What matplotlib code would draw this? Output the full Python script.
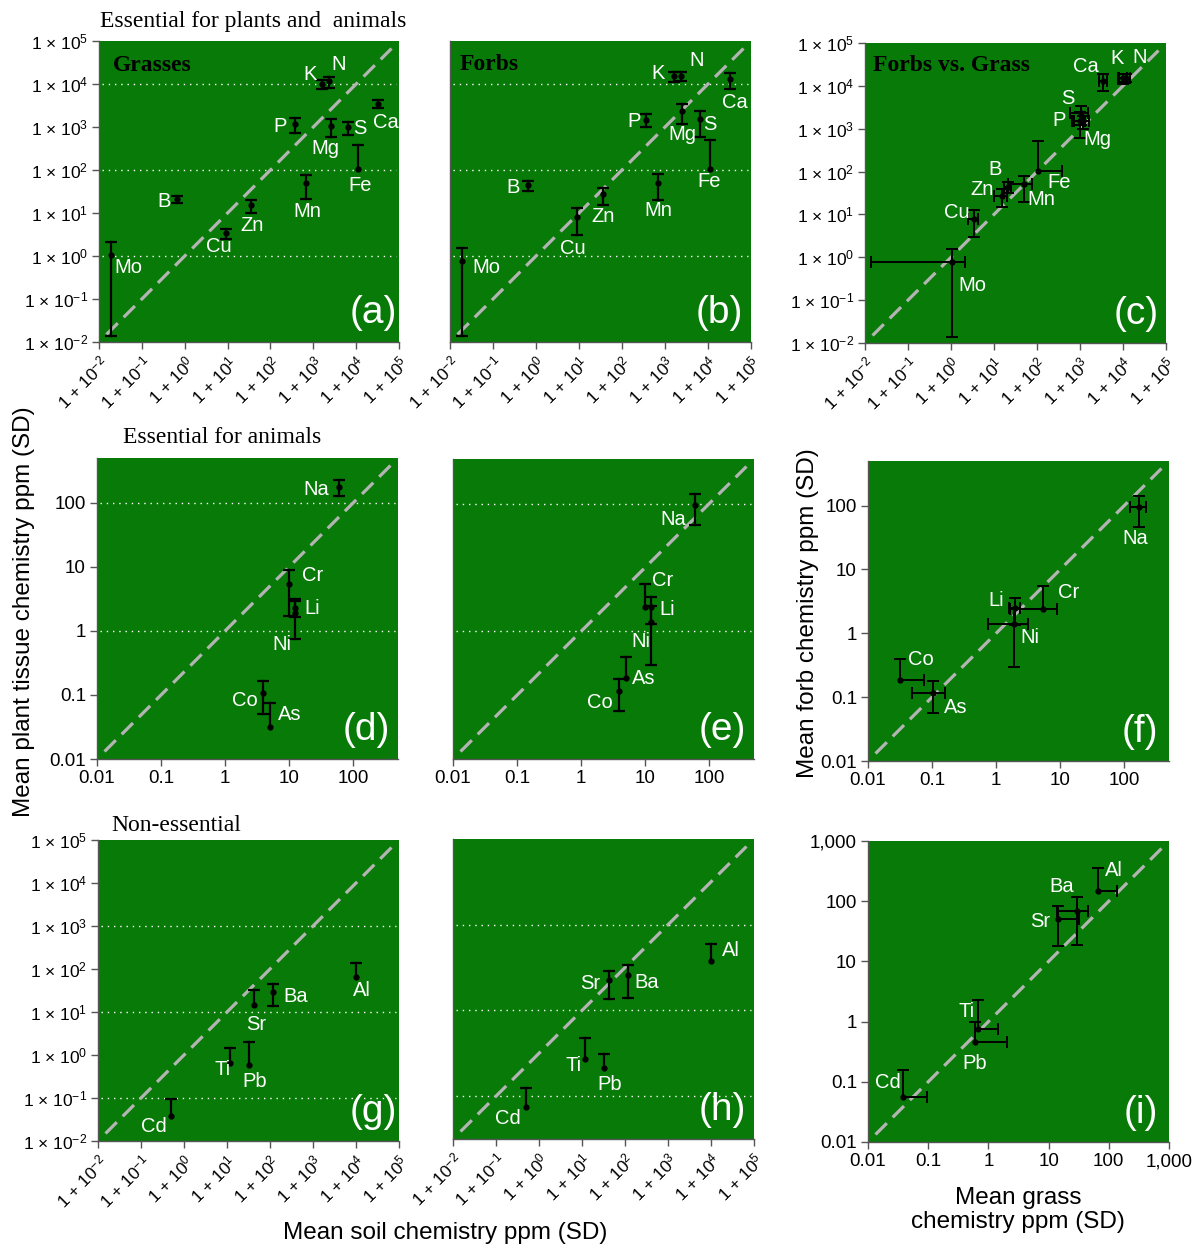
import numpy as np
import matplotlib
matplotlib.use("Agg")
import matplotlib.pyplot as plt
from matplotlib.ticker import NullLocator

plt.rcParams["font.family"] = ["Liberation Sans", "DejaVu Sans"]
plt.rcParams["mathtext.fontset"] = "custom"
plt.rcParams["mathtext.rm"] = "Liberation Sans"
plt.rcParams["mathtext.it"] = "Liberation Sans:italic"
plt.rcParams["mathtext.bf"] = "Liberation Sans:bold"

GREEN = "#077a07"
SPINE = "#555555"

# essential for plants and animals (ppm)
pa_elements = ["Mo", "B", "Cu", "Zn", "Mn", "P", "K", "N", "Mg", "S", "Fe", "Ca"]
pa_soil = [0.019, 0.65, 9.0, 36, 690, 370, 1630, 2340, 2550, 6470, 11200, 32900]
pa_grass_mean = [1.04, 21, 3.4, 15, 49, 1190, 10000, 11500, 1070, 1000, 104, 3500]
pa_grass_sd = [1.026, 4, 0.95, 5, 28, 450, 2500, 3300, 470, 340, 280, 800]
pa_forb_mean = [0.77, 44, 8, 27, 50, 1480, 15000, 15500, 2300, 1500, 105, 13000]
pa_forb_sd = [0.756, 12, 5, 12, 30, 500, 3700, 3500, 1100, 900, 400, 5500]

# essential for animals
an_elements = ["Na", "Cr", "Li", "Ni", "Co", "As"]
an_soil = [60, 9.9, 12.5, 12.2, 3.9, 5.1]
an_grass_mean = [177, 5.3, 2.3, 1.93, 0.107, 0.032]
an_grass_sd = [50, 3.6, 0.65, 1.18, 0.057, 0.043]
an_forb_mean = [95, 2.4, 2.4, 1.4, 0.118, 0.187]
an_forb_sd = [48, 3.2, 1.1, 1.1, 0.062, 0.215]

# panel (f) as drawn (forb vs grass)
f_elements = ["Na", "Cr", "Li", "Ni", "Co", "As"]
f_grass_mean = [171, 5.36, 2.0, 1.93, 0.032, 0.105]
f_grass_sd = [48, 3.7, 0.4, 1.18, 0.043, 0.057]
f_forb_mean = [95, 2.4, 2.45, 1.4, 0.187, 0.118]
f_forb_sd = [48, 3.2, 1.1, 1.1, 0.215, 0.062]

# non-essential
ne_elements = ["Cd", "Ti", "Pb", "Sr", "Ba", "Al"]
ne_soil = [0.5, 11.8, 32.5, 42.5, 118, 9800]
ne_grass_mean = [0.038, 0.66, 0.6, 14.5, 29.5, 66]
ne_grass_sd = [0.059, 0.81, 1.42, 18, 15.5, 70]
ne_forb_mean = [0.055, 0.75, 0.45, 51, 68, 145]
ne_forb_sd = [0.1, 1.5, 0.52, 33, 49, 212]

# label offsets (pixels, x right / y up)
off_a = {"Mo": (17, -12), "B": (-13, -2), "Cu": (-7, -13), "Zn": (1, -20), "Mn": (1, -28),
         "P": (-15, -3), "K": (-12, 9), "N": (10, 17), "Mg": (-5, -23), "S": (12, -1),
         "Fe": (2, -16), "Ca": (8, -19)}
off_b = {"Mo": (24, -7), "B": (-15, -2), "Cu": (-4, -31), "Zn": (0, -22), "Mn": (0, -28),
         "P": (-12, -2), "K": (-16, 3), "N": (16, 15), "Mg": (0, -23), "S": (10, -5),
         "Fe": (-1, -12), "Ca": (5, -23)}
off_c = {"Mo": (21, -23), "B": (-13, 17), "Cu": (-17, 6), "Zn": (-20, 6), "Mn": (18, -15),
         "P": (-24, 1), "K": (-6, 20), "N": (14, 20), "Mg": (16, -26), "S": (-12, 23),
         "Fe": (21, -12), "Ca": (-18, 14)}
off_d = {"Na": (-23, -3), "Cr": (24, 9), "Li": (17, -1), "Ni": (-13, -32), "Co": (-18, -7),
         "As": (19, 12)}
off_e = {"Na": (-22, -14), "Cr": (18, 27), "Li": (16, -2), "Ni": (-10, -20), "Co": (-19, -12),
         "As": (17, -1)}
off_f = {"Na": (-4, -31), "Cr": (26, 17), "Li": (-19, 8), "Ni": (15, -14), "Co": (21, 20),
         "As": (22, -15)}
off_g = {"Cd": (-17, -10), "Ti": (-8, -7), "Pb": (6, -17), "Sr": (2, -19), "Ba": (23, -5),
         "Al": (6, -14)}
off_h = {"Cd": (-18, -11), "Ti": (-12, -7), "Pb": (6, -16), "Sr": (-19, -3), "Ba": (19, -8),
         "Al": (20, 10)}
off_i = {"Cd": (-15, 15), "Ti": (-11, 18), "Pb": (0, -21), "Sr": (-18, -3), "Ba": (-15, 25),
         "Al": (16, 21)}

W, H = 1192, 1248
fig = plt.figure(figsize=(W / 100, H / 100), dpi=100)


def add_panel(l, t, r, b):
    return fig.add_axes([l / W, 1 - b / H, (r - l) / W, (b - t) / H])


def setup(ax, lo, hi, ticks, xlabels, ylabels, grid):
    ax.set_xscale("log")
    ax.set_yscale("log")
    ax.set_xlim(lo, hi)
    ax.set_ylim(lo, hi)
    ax.set_facecolor(GREEN)
    for sp in ["top", "right"]:
        ax.spines[sp].set_visible(False)
    for sp in ["left", "bottom"]:
        ax.spines[sp].set_color(SPINE)
        ax.spines[sp].set_linewidth(1)
    ax.xaxis.set_minor_locator(NullLocator())
    ax.yaxis.set_minor_locator(NullLocator())
    ax.tick_params(direction="out", length=5, width=1, color=SPINE, pad=3)
    ax.set_xticks(ticks)
    rot = xlabels[0].startswith("1 +")
    if rot:
        ax.set_xticklabels(xlabels, rotation=45, ha="right", va="top",
                           rotation_mode="anchor", fontsize=12.5)
    else:
        ax.set_xticklabels(xlabels, fontsize=13.5)
    if ylabels is None:
        ax.set_yticks([])
    else:
        ax.set_yticks(ticks)
        ax.set_yticklabels(ylabels, fontsize=12.5 if rot else 13.5)
    for g in grid:
        ax.axhline(g, xmin=0.01, xmax=0.99, color="white", lw=1,
                   ls=(0, (1, 3.5)), zorder=1)
    dec = np.log10(hi / lo)
    a = lo * 10 ** (0.025 * dec)
    b = hi * 10 ** (-0.025 * dec)
    ax.plot([a, b], [a, b], color="#b4b4b4", lw=2.3, dashes=(5, 2.6), zorder=2)


def err_bars(ax, xs, ys, xsd=None, ysd=None, lw=1.6, cap=8, dot=3.5):
    for i in range(len(xs)):
        x, y = xs[i], ys[i]
        if ysd is not None:
            hi = y + ysd[i]
            lo = y - ysd[i] if y - ysd[i] > 0 else y
            ax.plot([x, x], [lo, hi], color="k", lw=lw, zorder=4)
            ax.plot([x], [hi], marker="_", ms=cap, mew=lw, color="k", zorder=4)
            if lo < y:
                ax.plot([x], [lo], marker="_", ms=cap, mew=lw, color="k", zorder=4)
        if xsd is not None:
            hi = x + xsd[i]
            lo = x - xsd[i] if x - xsd[i] > 0 else x
            ax.plot([lo, hi], [y, y], color="k", lw=lw, zorder=4)
            ax.plot([hi], [y], marker="|", ms=cap, mew=lw, color="k", zorder=4)
            if lo < x:
                ax.plot([lo], [y], marker="|", ms=cap, mew=lw, color="k", zorder=4)
        ax.plot([x], [y], marker="o", ms=dot, color="k", zorder=5)


def labels(ax, names, xs, ys, offs):
    for n, x, y in zip(names, xs, ys):
        dx, dy = offs[n]
        ax.annotate(n, (x, y), xytext=(dx * 0.72, dy * 0.72), textcoords="offset points",
                    ha="center", va="center", color="white", fontsize=14.5, zorder=6)


def letter(ax, s, x=0.985):
    ax.text(x, 0.035, s, transform=ax.transAxes, ha="right", va="bottom",
            color="white", fontsize=28, zorder=6)


def heading(ax, s, x, y):
    ax.text(x, y, s, transform=ax.transAxes, ha="left", va="baseline",
            fontsize=17, fontweight="bold", family="Liberation Serif", zorder=6)


sci_ticks = [10.0 ** e for e in range(-2, 6)]
sci_x = ["1 + 10$^{%d}$" % e for e in range(-2, 6)]
sci_y = ["1 × 10$^{%d}$" % e for e in range(-2, 6)]
lin_ticks = [0.01, 0.1, 1, 10, 100]
lin_lab = ["0.01", "0.1", "1", "10", "100"]
i_ticks = [0.01, 0.1, 1, 10, 100, 1000]
i_lab = ["0.01", "0.1", "1", "10", "100", "1,000"]

# row 1
ax = add_panel(99, 41, 399, 342)
setup(ax, 1e-2, 1e5, sci_ticks, sci_x, sci_y, [1, 100, 1e4])
err_bars(ax, pa_soil, pa_grass_mean, ysd=pa_grass_sd)
labels(ax, pa_elements, pa_soil, pa_grass_mean, off_a)
letter(ax, "(a)", 0.993)
heading(ax, "Grasses", 0.047, 0.90)

ax = add_panel(450, 41, 751, 342)
setup(ax, 1e-2, 1e5, sci_ticks, sci_x, None, [1, 100, 1e4])
err_bars(ax, pa_soil, pa_forb_mean, ysd=pa_forb_sd)
labels(ax, pa_elements, pa_soil, pa_forb_mean, off_b)
letter(ax, "(b)", 0.975)
heading(ax, "Forbs", 0.033, 0.904)

ax = add_panel(865, 43, 1166, 343)
setup(ax, 1e-2, 1e5, sci_ticks, sci_x, sci_y, [])
err_bars(ax, pa_grass_mean, pa_forb_mean, xsd=pa_grass_sd, ysd=pa_forb_sd, lw=1.4)
labels(ax, pa_elements, pa_grass_mean, pa_forb_mean, off_c)
letter(ax, "(c)", 0.975)
heading(ax, "Forbs vs. Grass", 0.027, 0.907)

# row 2
ax = add_panel(97, 458, 398, 759)
setup(ax, 0.01, 500, lin_ticks, lin_lab, lin_lab, [1, 100])
err_bars(ax, an_soil, an_grass_mean, ysd=an_grass_sd)
labels(ax, an_elements, an_soil, an_grass_mean, off_d)
letter(ax, "(d)", 0.975)

ax = add_panel(453, 459, 754, 759)
setup(ax, 0.01, 500, lin_ticks, lin_lab, None, [1, 100])
err_bars(ax, an_soil, an_forb_mean, ysd=an_forb_sd)
labels(ax, an_elements, an_soil, an_forb_mean, off_e)
letter(ax, "(e)", 0.975)

ax = add_panel(868, 461, 1169, 761)
setup(ax, 0.01, 500, lin_ticks, lin_lab, lin_lab, [])
err_bars(ax, f_grass_mean, f_forb_mean, xsd=f_grass_sd, ysd=f_forb_sd, lw=1.4)
labels(ax, f_elements, f_grass_mean, f_forb_mean, off_f)
letter(ax, "(f)", 0.965)

# row 3
ax = add_panel(98, 840, 399, 1141)
setup(ax, 1e-2, 1e5, sci_ticks, sci_x, sci_y, [0.1, 10, 1000])
err_bars(ax, ne_soil, ne_grass_mean, ysd=ne_grass_sd)
labels(ax, ne_elements, ne_soil, ne_grass_mean, off_g)
letter(ax, "(g)", 0.993)

ax = add_panel(453, 839, 754, 1139)
setup(ax, 1e-2, 1e5, sci_ticks, sci_x, None, [0.1, 10, 1000])
err_bars(ax, ne_soil, ne_forb_mean, ysd=ne_forb_sd)
labels(ax, ne_elements, ne_soil, ne_forb_mean, off_h)
letter(ax, "(h)", 0.975)

ax = add_panel(868, 841, 1169, 1142)
setup(ax, 0.01, 1000, i_ticks, i_lab, i_lab, [])
err_bars(ax, ne_grass_mean, ne_forb_mean, xsd=ne_grass_sd, ysd=ne_forb_sd, lw=1.4)
labels(ax, ne_elements, ne_grass_mean, ne_forb_mean, off_i)
letter(ax, "(i)", 0.965)

# figure texts
serif = "Liberation Serif"
fig.text(100 / W, 1 - 27 / H, "Essential for plants and  animals", family=serif,
         fontsize=17, va="baseline", ha="left")
fig.text(123 / W, 1 - 443 / H, "Essential for animals", family=serif,
         fontsize=17, va="baseline", ha="left")
fig.text(111 / W, 1 - 831 / H, "Non-essential", family=serif,
         fontsize=17, va="baseline", ha="left")
fig.text(24 / W, 1 - 612 / H, "Mean plant tissue chemistry ppm (SD)", rotation=90,
         ha="center", va="center", fontsize=17.5)
fig.text(808 / W, 1 - 613 / H, "Mean forb chemistry ppm (SD)", rotation=90,
         ha="center", va="center", fontsize=17.5)
fig.text(445 / W, 1 - 1233 / H, "Mean soil chemistry ppm (SD)",
         ha="center", va="center", fontsize=17.5)
fig.text(1018 / W, 1 - 1210 / H, "Mean grass\nchemistry ppm (SD)",
         ha="center", va="center", fontsize=17.5, linespacing=1.15)

fig.savefig("out.png", dpi=100, facecolor="white")
